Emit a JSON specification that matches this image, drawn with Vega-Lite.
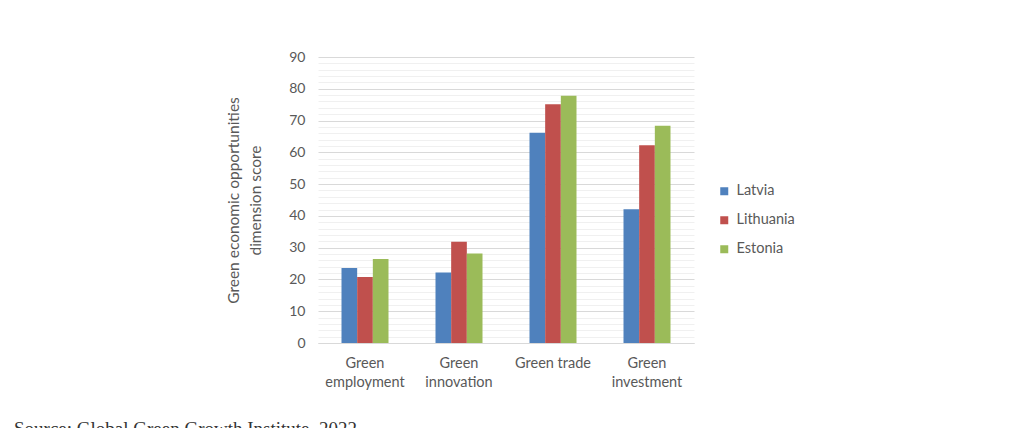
{
  "$schema": "https://vega.github.io/schema/vega-lite/v6.json",
  "width": 376,
  "height": 286,
  "autosize": "none",
  "padding": {"left": 318, "top": 57, "right": 331, "bottom": 85},
  "background": "white",
  "data": {
    "values": [
      {"category": "Green employment", "country": "Latvia", "score": 23.6},
      {"category": "Green employment", "country": "Lithuania", "score": 20.8},
      {"category": "Green employment", "country": "Estonia", "score": 26.4},
      {"category": "Green innovation", "country": "Latvia", "score": 22.2},
      {"category": "Green innovation", "country": "Lithuania", "score": 31.9},
      {"category": "Green innovation", "country": "Estonia", "score": 28.2},
      {"category": "Green trade", "country": "Latvia", "score": 66.2},
      {"category": "Green trade", "country": "Lithuania", "score": 75.1},
      {"category": "Green trade", "country": "Estonia", "score": 77.8},
      {"category": "Green investment", "country": "Latvia", "score": 42.1},
      {"category": "Green investment", "country": "Lithuania", "score": 62.2},
      {"category": "Green investment", "country": "Estonia", "score": 68.4}
    ]
  },
  "title": {
    "text": "Source: Global Green Growth Institute, 2022",
    "orient": "bottom",
    "anchor": "start",
    "frame": "group",
    "font": "Liberation Serif",
    "fontSize": 19,
    "fontWeight": "normal",
    "color": "#333333",
    "dx": -304,
    "offset": 31
  },
  "mark": {"type": "bar"},
  "encoding": {
    "x": {
      "field": "category",
      "type": "nominal",
      "sort": ["Green employment", "Green innovation", "Green trade", "Green investment"],
      "scale": {"paddingInner": 0.5, "paddingOuter": 0.25},
      "axis": {
        "title": null,
        "labelAngle": 0,
        "domain": true,
        "domainColor": "#d9d9d9",
        "ticks": false,
        "labelExpr": "datum.label == 'Green trade' ? datum.label : split(datum.label, ' ')",
        "labelFont": "Lato",
        "labelFontSize": 14.5,
        "labelColor": "#595959",
        "labelPadding": 13,
        "labelLineHeight": 19,
        "labelBaseline": "top"
      }
    },
    "y": {
      "field": "score",
      "type": "quantitative",
      "scale": {"domain": [0, 90], "nice": false},
      "axis": {
        "title": ["Green economic opportunities", "dimension score"],
        "titleFont": "Lato",
        "titleFontSize": 15.5,
        "titleFontWeight": "normal",
        "titleColor": "#595959",
        "titleLineHeight": 22,
        "titlePadding": 25,
        "values": [0, 2, 4, 6, 8, 10, 12, 14, 16, 18, 20, 22, 24, 26, 28, 30, 32, 34, 36, 38, 40, 42, 44, 46, 48, 50, 52, 54, 56, 58, 60, 62, 64, 66, 68, 70, 72, 74, 76, 78, 80, 82, 84, 86, 88, 90],
        "labelExpr": "datum.value % 10 == 0 ? datum.label : ''",
        "labelOverlap": false,
        "labelFont": "Lato",
        "labelFontSize": 14,
        "labelColor": "#595959",
        "labelPadding": 13,
        "ticks": false,
        "domain": false,
        "grid": true,
        "gridColor": {"condition": {"test": "datum.value % 10 == 0", "value": "#d9d9d9"}, "value": "#f0f0f0"},
        "gridWidth": 1
      }
    },
    "xOffset": {"field": "country", "type": "nominal", "sort": ["Latvia", "Lithuania", "Estonia"]},
    "color": {
      "field": "country",
      "type": "nominal",
      "scale": {"domain": ["Latvia", "Lithuania", "Estonia"], "range": ["#4f81bd", "#c0504d", "#9bbb59"]},
      "legend": {
        "title": null,
        "orient": "none",
        "legendX": 399,
        "legendY": 127,
        "symbolType": "square",
        "symbolSize": 64,
        "symbolStrokeWidth": 0,
        "labelFont": "Lato",
        "labelFontSize": 14.5,
        "labelColor": "#595959",
        "labelOffset": 5,
        "rowPadding": 14
      }
    }
  },
  "config": {"view": {"stroke": null}}
}
